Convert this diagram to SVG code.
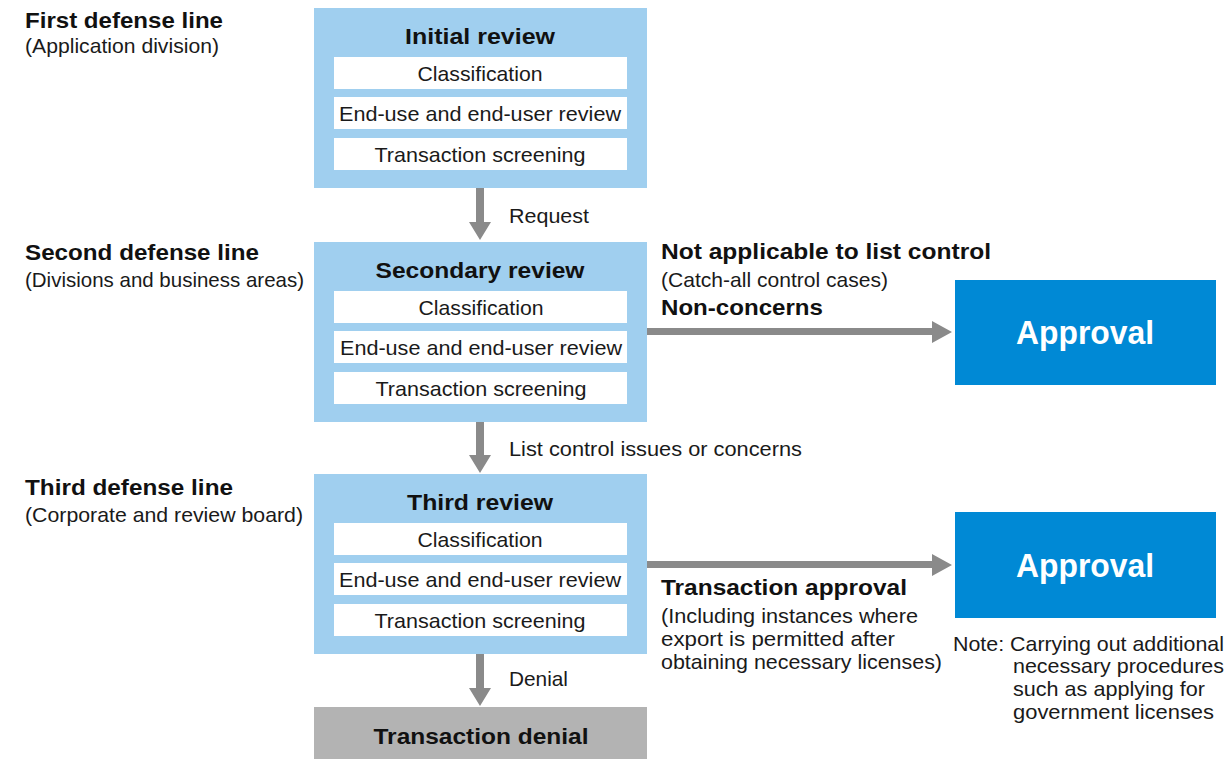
<svg xmlns="http://www.w3.org/2000/svg" width="1230" height="759" viewBox="0 0 1230 759">
  <defs>
    <style>
      text { font-family: "Liberation Sans", Arial, sans-serif; fill: #111; }
      .b { font-weight: bold; font-size: 22px; }
      .r { font-size: 21px; fill: #1a1a1a; }
      .c { text-anchor: middle; }
      .panel { fill: #a0cfef; }
      .row { fill: #ffffff; }
      .ok { fill: #0089d5; }
      .deny { fill: #b3b3b3; }
      .okt { font-weight: bold; font-size: 33px; fill: #ffffff; text-anchor: middle; }
      .arrow { fill: #8a8a8a; }
    </style>
  </defs>

  <!-- defense line labels -->
  <g id="line-labels">
    <text class="b" x="25" y="28" textLength="198" lengthAdjust="spacingAndGlyphs">First defense line</text>
    <text class="r" x="25" y="53" textLength="194" lengthAdjust="spacingAndGlyphs">(Application division)</text>
    <text class="b" x="25" y="260" textLength="234" lengthAdjust="spacingAndGlyphs">Second defense line</text>
    <text class="r" x="25" y="287" textLength="279" lengthAdjust="spacingAndGlyphs">(Divisions and business areas)</text>
    <text class="b" x="25" y="495" textLength="208" lengthAdjust="spacingAndGlyphs">Third defense line</text>
    <text class="r" x="25" y="522" textLength="278" lengthAdjust="spacingAndGlyphs">(Corporate and review board)</text>
  </g>

  <!-- review stages -->
  <g id="initial-review">
    <rect class="panel" x="314" y="8" width="333" height="180"/>
    <text class="b c" x="480" y="44" textLength="150" lengthAdjust="spacingAndGlyphs">Initial review</text>
    <rect class="row" x="334" y="57" width="293" height="32"/>
    <rect class="row" x="334" y="97" width="293" height="32"/>
    <rect class="row" x="334" y="138" width="293" height="32"/>
    <text class="r c" x="480" y="81" textLength="125" lengthAdjust="spacingAndGlyphs">Classification</text>
    <text class="r c" x="480" y="121" textLength="282" lengthAdjust="spacingAndGlyphs">End-use and end-user review</text>
    <text class="r c" x="480" y="162" textLength="211" lengthAdjust="spacingAndGlyphs">Transaction screening</text>
  </g>

  <g id="secondary-review">
    <rect class="panel" x="314" y="242" width="333" height="180"/>
    <text class="b c" x="480" y="278" textLength="209" lengthAdjust="spacingAndGlyphs">Secondary review</text>
    <rect class="row" x="334" y="291" width="293" height="32"/>
    <rect class="row" x="334" y="331" width="293" height="32"/>
    <rect class="row" x="334" y="372" width="293" height="32"/>
    <text class="r c" x="481" y="315" textLength="125" lengthAdjust="spacingAndGlyphs">Classification</text>
    <text class="r c" x="481" y="355" textLength="282" lengthAdjust="spacingAndGlyphs">End-use and end-user review</text>
    <text class="r c" x="481" y="396" textLength="211" lengthAdjust="spacingAndGlyphs">Transaction screening</text>
  </g>

  <g id="third-review">
    <rect class="panel" x="314" y="474" width="333" height="180"/>
    <text class="b c" x="480" y="510" textLength="146" lengthAdjust="spacingAndGlyphs">Third review</text>
    <rect class="row" x="334" y="523" width="293" height="32"/>
    <rect class="row" x="334" y="563" width="293" height="32"/>
    <rect class="row" x="334" y="604" width="293" height="32"/>
    <text class="r c" x="480" y="547" textLength="125" lengthAdjust="spacingAndGlyphs">Classification</text>
    <text class="r c" x="480" y="587" textLength="282" lengthAdjust="spacingAndGlyphs">End-use and end-user review</text>
    <text class="r c" x="480" y="628" textLength="211" lengthAdjust="spacingAndGlyphs">Transaction screening</text>
  </g>

  <g id="transaction-denial">
    <rect class="deny" x="314" y="707" width="333" height="52"/>
    <text class="b c" x="481" y="744" textLength="215" lengthAdjust="spacingAndGlyphs">Transaction denial</text>
  </g>

  <!-- outcomes -->
  <g id="approval-1">
    <rect class="ok" x="955" y="280" width="261" height="105"/>
    <text class="okt" x="1085" y="344" textLength="138" lengthAdjust="spacingAndGlyphs">Approval</text>
  </g>

  <g id="approval-2">
    <rect class="ok" x="955" y="512" width="261" height="106"/>
    <text class="okt" x="1085" y="577" textLength="138" lengthAdjust="spacingAndGlyphs">Approval</text>
  </g>

  <!-- connectors -->
  <g id="connectors">
    <path class="arrow" d="M476,188 H484 V222 H491 L480,240 L469,222 H476 Z"/>
    <path class="arrow" d="M476,422 H484 V455 H491 L480,473 L469,455 H476 Z"/>
    <path class="arrow" d="M476,654 H484 V688 H491 L480,706 L469,688 H476 Z"/>
    <path class="arrow" d="M647,328 H932 V321 L952,332 L932,343 V335 H647 Z"/>
    <path class="arrow" d="M647,561 H932 V554 L952,565 L932,576 V568 H647 Z"/>
  </g>

  <!-- connector labels -->
  <g id="connector-labels">
    <text class="r" x="509" y="223" textLength="80" lengthAdjust="spacingAndGlyphs">Request</text>
    <text class="r" x="509" y="456" textLength="293" lengthAdjust="spacingAndGlyphs">List control issues or concerns</text>
    <text class="r" x="509" y="686" textLength="59" lengthAdjust="spacingAndGlyphs">Denial</text>

    <text class="b" x="661" y="259" textLength="330" lengthAdjust="spacingAndGlyphs">Not applicable to list control</text>
    <text class="r" x="661" y="287" textLength="227" lengthAdjust="spacingAndGlyphs">(Catch-all control cases)</text>
    <text class="b" x="661" y="315" textLength="162" lengthAdjust="spacingAndGlyphs">Non-concerns</text>

    <text class="b" x="661" y="595" textLength="246" lengthAdjust="spacingAndGlyphs">Transaction approval</text>
    <text class="r" x="661" y="623" textLength="257" lengthAdjust="spacingAndGlyphs">(Including instances where</text>
    <text class="r" x="661" y="646" textLength="234" lengthAdjust="spacingAndGlyphs">export is permitted after</text>
    <text class="r" x="661" y="669" textLength="281" lengthAdjust="spacingAndGlyphs">obtaining necessary licenses)</text>
  </g>

  <!-- note under the second approval -->
  <g id="note">
    <text class="r" x="953" y="651" textLength="271" lengthAdjust="spacingAndGlyphs">Note: Carrying out additional</text>
    <text class="r" x="1013" y="673" textLength="211" lengthAdjust="spacingAndGlyphs">necessary procedures</text>
    <text class="r" x="1013" y="696" textLength="192" lengthAdjust="spacingAndGlyphs">such as applying for</text>
    <text class="r" x="1013" y="719" textLength="201" lengthAdjust="spacingAndGlyphs">government licenses</text>
  </g>
</svg>
